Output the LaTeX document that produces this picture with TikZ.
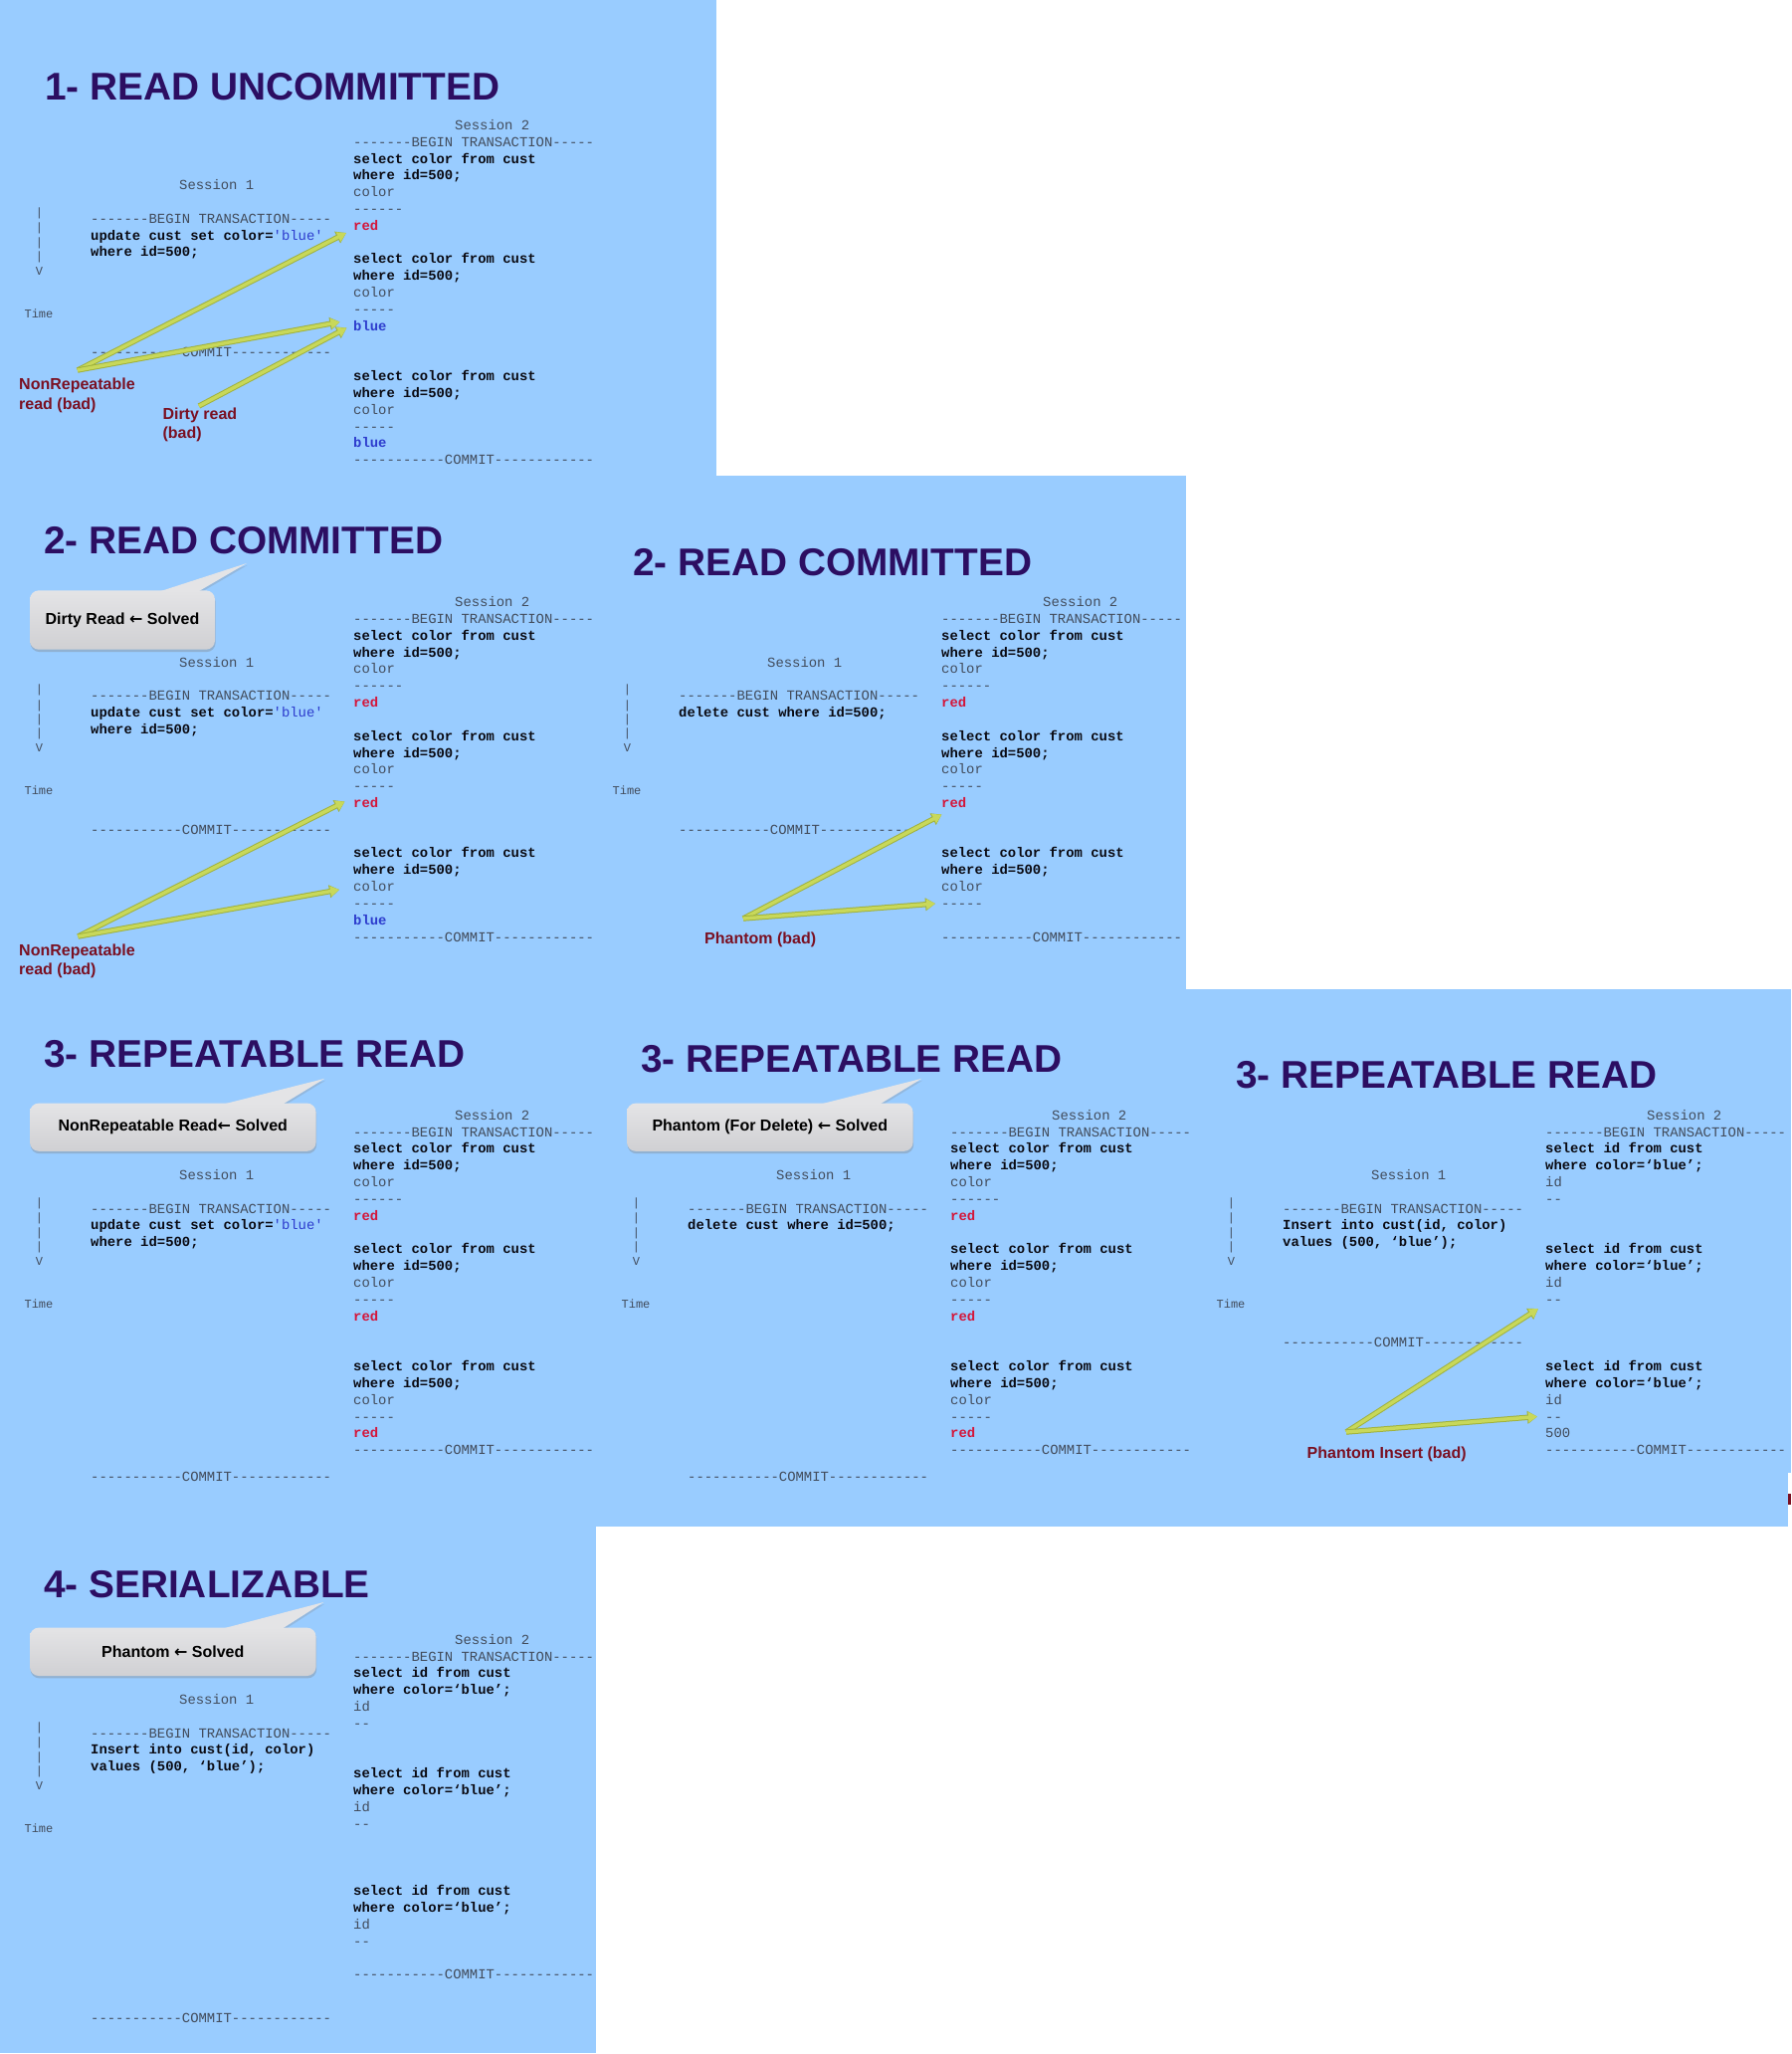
\documentclass[tikz,border=0pt]{standalone}
\usepackage{fontspec}
\usetikzlibrary{arrows.meta,shadows}
\newfontfamily\monof{Liberation Mono}
\newfontfamily\sansf{Liberation Sans}
\newfontfamily\arrowf{DejaVu Sans}
\definecolor{bgblue}{RGB}{153,204,255}
\definecolor{titlec}{RGB}{44,14,98}
\definecolor{annotc}{RGB}{122,16,34}
\definecolor{codegray}{RGB}{66,76,92}
\definecolor{codeblack}{RGB}{10,10,18}
\definecolor{codered}{RGB}{212,22,58}
\definecolor{codeblue}{RGB}{45,60,205}
\definecolor{hlin}{RGB}{200,216,90}
\definecolor{hlout}{RGB}{160,178,60}
\definecolor{callTop}{RGB}{228,228,230}
\definecolor{callBot}{RGB}{208,208,211}
\newcommand\sqlb[1]{{\bfseries\color{codeblack}#1}}
\newcommand\valr[1]{{\bfseries\color{codered}#1}}
\newcommand\valb[1]{{\bfseries\color{codeblue}#1}}
\newcommand\qblue[1]{{\color{codeblue}#1}}
\newcommand\larr{{\arrowf\bfseries ←}}
\newcommand\beginln{-------BEGIN TRANSACTION-----}
\newcommand\commitln{-----------COMMIT------------}
\tikzset{
  code/.style={font=\monof\fontsize{13.9}{16.8}\selectfont, text=codegray, inner sep=0pt, anchor=base west},
  tl/.style={font=\monof\fontsize{12}{14}\selectfont, text=codegray, inner sep=0pt},
  title/.style={font=\sansf\bfseries\fontsize{38.8}{46}\selectfont, text=titlec, inner sep=0pt, anchor=base west},
  annot/.style={font=\sansf\bfseries\fontsize{16}{19}\selectfont, text=annotc, inner sep=0pt, anchor=base west},
  callbox/.style={rounded corners=9pt, top color=callTop, bottom color=callBot,
    drop shadow={shadow xshift=0.6pt, shadow yshift=-2.4pt, opacity=0.35},
    font=\sansf\bfseries\fontsize{16}{19}\selectfont, text=black, inner sep=0pt},
  calltail/.style={fill=callTop, drop shadow={shadow xshift=0.6pt, shadow yshift=-2pt, opacity=0.25}},
  hl/.style={draw=hlin, line width=3.4pt, -{Triangle[length=9pt,width=10pt]},
    preaction={draw=hlout, line width=5.4pt, -{Triangle[length=10pt,width=12.5pt]}}},
}
% #1 prefix, #2 dx, #3 y of session-2 BEGIN line, #4 session-1 lines, #5 session-2 lines
\newcommand\sessions[5]{%
  \node[code] (#1-s2) at (457+#2, #3-12.5) {Session 2};
  \node[code] (#1-s1) at (180+#2, #3+48) {Session 1};
  \foreach \txt [count=\k from 0] in {#5} {\node[code] (#1-b\k) at (355+#2, #3+4.5+16.82*\k) {\txt};}
  \foreach \txt [count=\k from 0] in {#4} {\node[code] (#1-a\k) at (91+#2, #3+81.5+16.82*\k) {\txt};}
  \foreach \dy [count=\k] in {-5.5,10,24.5,38.3} {\node[tl] (#1-bar\k) at (39.4+#2, #3+77+\dy) {|};}
  \node[tl] (#1-v) at (39.4+#2, #3+129.8) {V};
  \node[tl] (#1-time) at (39+#2, #3+172.6) {Time};
}
\begin{document}
\begin{tikzpicture}[x=1pt,y=-1pt]
\useasboundingbox (0,0) rectangle (1800,2064);
\fill[white] (0,0) rectangle (1800,2064);
\fill[bgblue] (0,0) rectangle (720,478);
\fill[bgblue] (0,478) rectangle (1192,994.5);
\fill[bgblue] (0,994) rectangle (1800,1534);
\fill[bgblue] (0,1534) rectangle (599,2063);
\fill[white] (1797,1480) rectangle (1800,1534);
\fill[annotc] (1796.5,1501) rectangle (1800,1512);

% titles
\node[title] (t1) at (45,100) {1- READ UNCOMMITTED};
\node[title] (t2a) at (44,556) {2- READ COMMITTED};
\node[title] (t2b) at (636,578) {2- READ COMMITTED};
\node[title] (t3a) at (44,1072.5) {3- REPEATABLE READ};
\node[title] (t3b) at (644,1077.6) {3- REPEATABLE READ};
\node[title] (t3c) at (1242,1093) {3- REPEATABLE READ};
\node[title] (t4) at (44,1605) {4- SERIALIZABLE};

% callouts
\fill[calltail] (140,601) -- (248,566) -- (188,601) -- cycle;
\node[callbox, minimum width=186pt, minimum height=59.4pt] (c2a) at (123,623) {Dirty Read \larr\ Solved};
\fill[calltail] (199,1116) -- (326.4,1083.8) -- (273.6,1116) -- cycle;
\node[callbox, minimum width=287.6pt, minimum height=48.2pt] (c3a) at (173.8,1132.7) {NonRepeatable Read\larr\ Solved};
\fill[calltail] (799,1116) -- (926.4,1083.8) -- (873.6,1116) -- cycle;
\node[callbox, minimum width=287.6pt, minimum height=48.2pt] (c3b) at (773.8,1132.7) {Phantom (For Delete) \larr\ Solved};
\fill[calltail] (199,1643) -- (325.3,1610) -- (273.6,1643) -- cycle;
\node[callbox, minimum width=287.6pt, minimum height=48.4pt] (c4) at (173.8,1659.8) {Phantom \larr\ Solved};

% panel 1
\sessions{pa}{0}{142.7}
 {{\beginln},{\sqlb{update cust set color=}\qblue{'blue'}},{\sqlb{where id=500;}},{},{},{},{},{},{\commitln}}
 {{\beginln},{\sqlb{select color from cust}},{\sqlb{where id=500;}},{color},{------},{\valr{red}},{},
  {\sqlb{select color from cust}},{\sqlb{where id=500;}},{color},{-----},{\valb{blue}},{},{},
  {\sqlb{select color from cust}},{\sqlb{where id=500;}},{color},{-----},{\valb{blue}},{\commitln}}
% panel 2a
\sessions{pb}{0}{622}
 {{\beginln},{\sqlb{update cust set color=}\qblue{'blue'}},{\sqlb{where id=500;}},{},{},{},{},{},{\commitln}}
 {{\beginln},{\sqlb{select color from cust}},{\sqlb{where id=500;}},{color},{------},{\valr{red}},{},
  {\sqlb{select color from cust}},{\sqlb{where id=500;}},{color},{-----},{\valr{red}},{},{},
  {\sqlb{select color from cust}},{\sqlb{where id=500;}},{color},{-----},{\valb{blue}},{\commitln}}
% panel 2b
\sessions{pc}{591}{622}
 {{\beginln},{\sqlb{delete cust where id=500;}},{},{},{},{},{},{},{\commitln}}
 {{\beginln},{\sqlb{select color from cust}},{\sqlb{where id=500;}},{color},{------},{\valr{red}},{},
  {\sqlb{select color from cust}},{\sqlb{where id=500;}},{color},{-----},{\valr{red}},{},{},
  {\sqlb{select color from cust}},{\sqlb{where id=500;}},{color},{-----},{},{\commitln}}
% panel 3a
\sessions{pd}{0}{1137.6}
 {{\beginln},{\sqlb{update cust set color=}\qblue{'blue'}},{\sqlb{where id=500;}},{},{},{},{},{},{},{},{},{},{},{},{},{},{\commitln}}
 {{\beginln},{\sqlb{select color from cust}},{\sqlb{where id=500;}},{color},{------},{\valr{red}},{},
  {\sqlb{select color from cust}},{\sqlb{where id=500;}},{color},{-----},{\valr{red}},{},{},
  {\sqlb{select color from cust}},{\sqlb{where id=500;}},{color},{-----},{\valr{red}},{\commitln}}
% panel 3b
\sessions{pe}{600}{1137.6}
 {{\beginln},{\sqlb{delete cust where id=500;}},{},{},{},{},{},{},{},{},{},{},{},{},{},{},{\commitln}}
 {{\beginln},{\sqlb{select color from cust}},{\sqlb{where id=500;}},{color},{------},{\valr{red}},{},
  {\sqlb{select color from cust}},{\sqlb{where id=500;}},{color},{-----},{\valr{red}},{},{},
  {\sqlb{select color from cust}},{\sqlb{where id=500;}},{color},{-----},{\valr{red}},{\commitln}}
% panel 3c
\sessions{pf}{1198}{1137.6}
 {{\beginln},{\sqlb{Insert into cust(id, color)}},{\sqlb{values (500, ‘blue’);}},{},{},{},{},{},{\commitln}}
 {{\beginln},{\sqlb{select id from cust}},{\sqlb{where color=‘blue’;}},{id},{--},{},{},
  {\sqlb{select id from cust}},{\sqlb{where color=‘blue’;}},{id},{--},{},{},{},
  {\sqlb{select id from cust}},{\sqlb{where color=‘blue’;}},{id},{--},{500},{\commitln}}
% panel 4
\sessions{pg}{0}{1664.6}
 {{\beginln},{\sqlb{Insert into cust(id, color)}},{\sqlb{values (500, ‘blue’);}},{},{},{},{},{},{},{},{},{},{},{},{},{},{},{\commitln}}
 {{\beginln},{\sqlb{select id from cust}},{\sqlb{where color=‘blue’;}},{id},{--},{},{},
  {\sqlb{select id from cust}},{\sqlb{where color=‘blue’;}},{id},{--},{},{},{},
  {\sqlb{select id from cust}},{\sqlb{where color=‘blue’;}},{id},{--},{},{\commitln}}

% annotations
\node[annot] (nr1a) at (19,391.7) {NonRepeatable};
\node[annot] (nr1b) at (19,411) {read (bad)};
\node[annot] (dr1a) at (163.3,421.7) {Dirty read};
\node[annot] (dr1b) at (163.3,440.5) {(bad)};
\node[annot] (nr2a) at (19,960) {NonRepeatable};
\node[annot] (nr2b) at (19,979) {read (bad)};
\node[annot] (ph2) at (708,948) {Phantom (bad)};
\node[annot] (ph3) at (1313.5,1465) {Phantom Insert (bad)};

% arrows
\coordinate (a1s) at (78,372);
\coordinate (a1t1) at (348,234);
\coordinate (a1t2) at (341.5,323.5);
\coordinate (d1s) at (200,408);
\coordinate (d1t) at (348.5,329.5);
\coordinate (a2s) at (78.5,941);
\coordinate (a2t1) at (346.5,805.5);
\coordinate (a2t2) at (341,894);
\coordinate (a3s) at (747,923);
\coordinate (a3t1) at (946.5,818.5);
\coordinate (a3t2) at (940,908);
\coordinate (a4s) at (1353,1439);
\coordinate (a4t1) at (1546,1315);
\coordinate (a4t2) at (1545,1423.5);
\draw[hl] (a1s) -- (a1t1);
\draw[hl] (a1s) -- (a1t2);
\draw[hl] (d1s) -- (d1t);
\draw[hl] (a2s) -- (a2t1);
\draw[hl] (a2s) -- (a2t2);
\draw[hl] (a3s) -- (a3t1);
\draw[hl] (a3s) -- (a3t2);
\draw[hl] (a4s) -- (a4t1);
\draw[hl] (a4s) -- (a4t2);
\end{tikzpicture}
\end{document}
